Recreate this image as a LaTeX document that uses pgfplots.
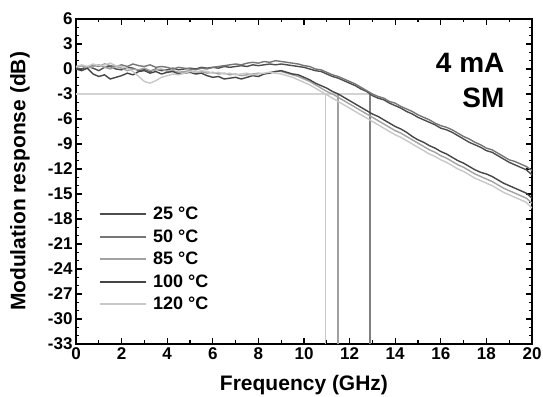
\documentclass[border=0pt]{standalone}
\usepackage{pgfplots}
\pgfplotsset{compat=1.18}
\usepackage{fontspec}
\setmainfont{Liberation Sans}
\definecolor{cA}{HTML}{4D4D4D}
\definecolor{cB}{HTML}{767676}
\definecolor{cD}{HTML}{A2A2A2}
\definecolor{cC}{HTML}{454545}
\definecolor{cE}{HTML}{C8C8C8}
\pgfplotstableread{
f a
0 0.1
0.25 0.0
0.5 0.3
0.75 0.1
1 -0.2
1.25 0.2
1.5 0.3
1.75 0.0
2 -0.1
2.25 0.2
2.5 0.1
2.75 -0.2
3 0.0
3.25 -0.3
3.5 0.0
3.75 -0.2
4 -0.1
4.25 0.1
4.5 -0.1
4.75 0.0
5 0.1
5.25 0.0
5.5 0.2
5.75 0.1
6 0.2
6.25 0.1
6.5 0.3
6.75 0.2
7 0.3
7.25 0.4
7.5 0.3
7.75 0.5
8 0.4
8.25 0.5
8.5 0.6
8.75 0.5
9 0.6
9.25 0.5
9.5 0.4
9.75 0.3
10 0.2
10.25 0.0
10.5 -0.2
10.75 -0.3
11 -0.6
11.25 -0.9
11.5 -1.1
11.75 -1.4
12 -1.7
12.25 -2.0
12.5 -2.4
12.75 -2.7
13 -3.2
13.25 -3.5
13.5 -3.7
13.75 -4.1
14 -4.4
14.25 -4.7
14.5 -5.1
14.75 -5.4
15 -5.8
15.25 -6.1
15.5 -6.4
15.75 -6.7
16 -7.1
16.25 -7.3
16.5 -7.6
16.75 -8.0
17 -8.4
17.25 -8.8
17.5 -9.1
17.75 -9.4
18 -9.8
18.25 -10.0
18.5 -10.4
18.75 -10.8
19 -11.2
19.25 -11.5
19.5 -11.8
19.75 -12.1
20 -12.7
}\tA
\pgfplotstableread{
f a
0 0.3
0.25 0.4
0.5 0.2
0.75 0.5
1 0.3
1.25 0.6
1.5 0.4
1.75 0.3
2 0.5
2.25 0.3
2.5 0.6
2.75 0.4
3 0.3
3.25 0.5
3.5 0.2
3.75 0.3
4 0.2
4.25 0.0
4.5 0.2
4.75 0.1
5 0.0
5.25 -0.1
5.5 0.1
5.75 0.0
6 0.2
6.25 0.3
6.5 0.4
6.75 0.5
7 0.6
7.25 0.5
7.5 0.7
7.75 0.8
8 0.7
8.25 0.9
8.5 0.8
8.75 1.0
9 0.9
9.25 0.8
9.5 0.7
9.75 0.6
10 0.4
10.25 0.3
10.5 0.0
10.75 -0.1
11 -0.4
11.25 -0.7
11.5 -0.9
11.75 -1.2
12 -1.5
12.25 -1.8
12.5 -2.2
12.75 -2.6
13 -3.0
13.25 -3.3
13.5 -3.5
13.75 -3.9
14 -4.1
14.25 -4.5
14.5 -4.8
14.75 -5.1
15 -5.5
15.25 -5.8
15.5 -6.1
15.75 -6.5
16 -6.8
16.25 -7.0
16.5 -7.3
16.75 -7.7
17 -8.1
17.25 -8.4
17.5 -8.8
17.75 -9.1
18 -9.5
18.25 -9.7
18.5 -10.1
18.75 -10.5
19 -10.9
19.25 -11.1
19.5 -11.4
19.75 -11.7
20 -12.2
}\tB
\pgfplotstableread{
f a
0 0.0
0.25 -0.2
0.5 0.1
0.75 -0.6
1 -0.9
1.25 -0.7
1.5 -1.2
1.75 -1.0
2 -0.8
2.25 -0.5
2.5 -0.7
2.75 -0.3
3 -0.2
3.25 -0.5
3.5 -0.3
3.75 -0.6
4 -0.4
4.25 -0.3
4.5 -0.6
4.75 -0.5
5 -0.4
5.25 -0.6
5.5 -0.5
5.75 -0.8
6 -1.0
6.25 -0.9
6.5 -1.2
6.75 -1.1
7 -1.0
7.25 -1.2
7.5 -1.0
7.75 -0.8
8 -0.9
8.25 -0.6
8.5 -0.5
8.75 -0.3
9 -0.2
9.25 -0.4
9.5 -0.6
9.75 -0.7
10 -1.0
10.25 -1.3
10.5 -1.7
10.75 -2.0
11 -2.3
11.25 -2.7
11.5 -3.0
11.75 -3.4
12 -3.8
12.25 -4.2
12.5 -4.6
12.75 -5.0
13 -5.4
13.25 -5.7
13.5 -6.1
13.75 -6.5
14 -6.9
14.25 -7.2
14.5 -7.6
14.75 -8.1
15 -8.5
15.25 -8.8
15.5 -9.2
15.75 -9.5
16 -9.9
16.25 -10.2
16.5 -10.6
16.75 -11.0
17 -11.3
17.25 -11.7
17.5 -12.1
17.75 -12.4
18 -12.6
18.25 -12.9
18.5 -13.3
18.75 -13.7
19 -14.0
19.25 -14.3
19.5 -14.6
19.75 -14.9
20 -15.5
}\tC
\pgfplotstableread{
f a
0 0.2
0.25 0.4
0.5 0.1
0.75 0.3
1 0.5
1.25 0.2
1.5 0.0
1.75 0.3
2 0.1
2.25 -0.2
2.5 0.0
2.75 -0.1
3 0.1
3.25 -0.2
3.5 -0.1
3.75 0.0
4 -0.3
4.25 -0.2
4.5 -0.4
4.75 -0.3
5 -0.2
5.25 -0.4
5.5 -0.3
5.75 -0.5
6 -0.4
6.25 -0.6
6.5 -0.5
6.75 -0.7
7 -0.6
7.25 -0.8
7.5 -0.7
7.75 -0.6
8 -0.5
8.25 -0.6
8.5 -0.4
8.75 -0.3
9 -0.3
9.25 -0.5
9.5 -0.7
9.75 -0.9
10 -1.2
10.25 -1.5
10.5 -1.9
10.75 -2.3
11 -2.7
11.25 -3.0
11.5 -3.4
11.75 -3.8
12 -4.2
12.25 -4.6
12.5 -5.0
12.75 -5.4
13 -5.8
13.25 -6.2
13.5 -6.6
13.75 -7.0
14 -7.4
14.25 -7.7
14.5 -8.1
14.75 -8.5
15 -8.9
15.25 -9.3
15.5 -9.7
15.75 -10.0
16 -10.4
16.25 -10.7
16.5 -11.1
16.75 -11.5
17 -11.8
17.25 -12.2
17.5 -12.6
17.75 -12.9
18 -13.2
18.25 -13.5
18.5 -13.9
18.75 -14.3
19 -14.6
19.25 -14.9
19.5 -15.2
19.75 -15.5
20 -16.1
}\tD
\pgfplotstableread{
f a
0 0.3
0.25 0.5
0.5 0.3
0.75 0.6
1 0.4
1.25 0.5
1.5 0.7
1.75 0.4
2 0.3
2.25 0.1
2.5 -0.3
2.75 -0.9
3 -1.5
3.25 -1.7
3.5 -1.4
3.75 -1.0
4 -0.8
4.25 -0.6
4.5 -0.7
4.75 -0.5
5 -0.3
5.25 -0.4
5.5 -0.2
5.75 -0.3
6 -0.5
6.25 -0.4
6.5 -0.6
6.75 -0.5
7 -0.7
7.25 -0.6
7.5 -0.5
7.75 -0.7
8 -0.6
8.25 -0.5
8.5 -0.4
8.75 -0.5
9 -0.6
9.25 -0.8
9.5 -1.0
9.75 -1.3
10 -1.6
10.25 -1.9
10.5 -2.3
10.75 -2.7
11 -3.1
11.25 -3.5
11.5 -3.9
11.75 -4.3
12 -4.7
12.25 -5.1
12.5 -5.5
12.75 -5.9
13 -6.3
13.25 -6.7
13.5 -7.1
13.75 -7.5
14 -7.9
14.25 -8.2
14.5 -8.6
14.75 -9.0
15 -9.4
15.25 -9.8
15.5 -10.2
15.75 -10.5
16 -10.9
16.25 -11.2
16.5 -11.6
16.75 -12.0
17 -12.3
17.25 -12.7
17.5 -13.1
17.75 -13.4
18 -13.7
18.25 -14.0
18.5 -14.4
18.75 -14.8
19 -15.1
19.25 -15.4
19.5 -15.7
19.75 -16.0
20 -16.7
}\tE
\begin{document}
\begin{tikzpicture}
\begin{axis}[
  name=ax,
  scale only axis,
  width=456pt, height=325pt,
  xmin=0, xmax=20, ymin=-33, ymax=6,
  xtick={0,2,...,20}, ytick={-33,-30,...,6},
  minor x tick num=1, minor y tick num=2,
  tick align=inside,
  major tick length=6pt, minor tick length=3.5pt,
  every tick/.style={black, line width=1.3pt},
  axis line style={line width=1.6pt},
  /pgf/number format/assume math mode=true,
  ticklabel style={font=\fontsize{17}{17}\selectfont\bfseries},
  xlabel={Frequency (GHz)},
  ylabel={Modulation response (dB)},
  label style={font=\fontsize{21}{21}\selectfont\bfseries},
  xlabel style={at={(axis description cs:0.5,-0.126)}, anchor=center},
  ylabel style={at={(axis description cs:-0.123,0.5)}, anchor=center},
  legend cell align=left,
  legend style={draw=none, fill=none, at={(axis cs:1.0,-16.3)}, anchor=north west,
    font=\fontsize{18}{18}\selectfont\bfseries, row sep=4.5pt, inner sep=0pt,
    /tikz/every odd column/.append style={column sep=4pt}},
  legend image code/.code={\draw[#1, line width=2.2pt] (0pt,0pt) -- (46pt,0pt);},
  every axis plot/.append style={line width=1.4pt},
]
\addplot[cE!80!white, line width=1.8pt, forget plot] coordinates {(0,-3) (12.9,-3)};
\addplot[cE, line width=1.6pt, forget plot] coordinates {(10.95,-33) (10.95,-3)};
\addplot[gray!75!white, line width=2pt, forget plot] coordinates {(11.5,-33) (11.5,-3)};
\addplot[gray, line width=2pt, forget plot] coordinates {(12.9,-33) (12.9,-3)};
\addplot[cA] table[x=f,y=a] {\tA};
\addlegendentry{25 °C}
\addplot[cB] table[x=f,y=a] {\tB};
\addlegendentry{50 °C}
\addplot[cD] table[x=f,y=a] {\tD};
\addlegendentry{85 °C}
\addplot[cC] table[x=f,y=a] {\tC};
\addlegendentry{100 °C}
\addplot[cE] table[x=f,y=a] {\tE};
\addlegendentry{120 °C}
\node[anchor=east, font=\fontsize{28}{28}\selectfont\bfseries, inner sep=0pt] at (axis cs:18.8,0.7) {4 mA};
\node[anchor=east, font=\fontsize{28}{28}\selectfont\bfseries, inner sep=0pt] at (axis cs:18.8,-3.5) {SM};
\end{axis}
\pgfresetboundingbox
\path ([xshift=-76pt,yshift=-53pt]ax.south west) rectangle ([xshift=11pt,yshift=19pt]ax.north east);
\end{tikzpicture}
\end{document}
